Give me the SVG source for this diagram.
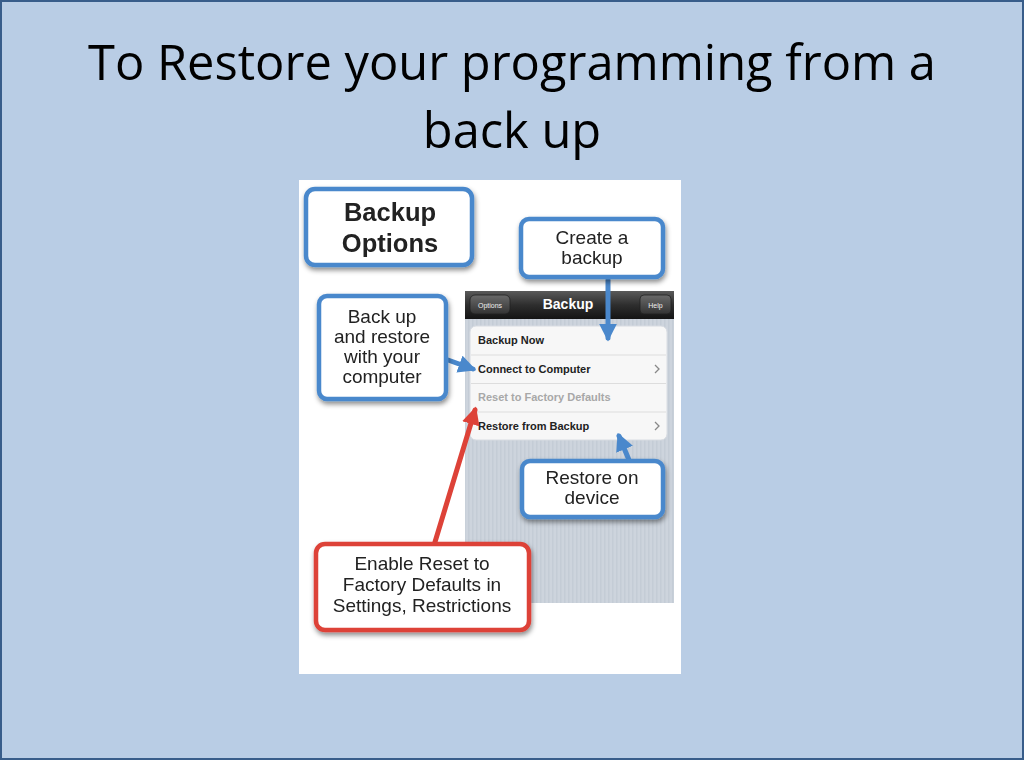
<svg xmlns="http://www.w3.org/2000/svg" width="1024" height="768" viewBox="0 0 1024 768">
<defs>
<style>
.title{font-family:"Open Sans","Liberation Sans",sans-serif;font-size:48.8px;fill:#000;text-anchor:middle}
.co{font-family:"Liberation Sans",Arial,sans-serif;font-size:19px;fill:#222;text-anchor:middle}
.cob{font-family:"Liberation Sans",Arial,sans-serif;font-size:25.5px;font-weight:bold;fill:#222;text-anchor:middle}
.row{font-family:"Liberation Sans",Arial,sans-serif;font-size:11px;font-weight:bold;fill:#222}
.blue{fill:#fff;stroke:#4a88cc;stroke-width:4.5}
.red{fill:#fff;stroke:#dd4238;stroke-width:4.5}
.chev{fill:none;stroke:#888;stroke-width:1.3}
</style>
<filter id="sh" x="-20%" y="-20%" width="140%" height="150%">
<feDropShadow dx="1" dy="3" stdDeviation="2.5" flood-color="#000" flood-opacity="0.45"/>
</filter>
<pattern id="stripe" width="4" height="4" patternUnits="userSpaceOnUse">
<rect width="4" height="4" fill="#cdd4dd"/>
<rect width="1.5" height="4" fill="#c4ccd6"/>
</pattern>
<linearGradient id="nav" x1="0" y1="0" x2="0" y2="1">
<stop offset="0" stop-color="#5a5a5a"/>
<stop offset="0.5" stop-color="#2e2e2e"/>
<stop offset="1" stop-color="#141414"/>
</linearGradient>
<linearGradient id="btn" x1="0" y1="0" x2="0" y2="1">
<stop offset="0" stop-color="#6a6a6a"/>
<stop offset="1" stop-color="#333"/>
</linearGradient>
<marker id="ab" viewBox="0 0 10 10" refX="8" refY="5" markerWidth="3.6" markerHeight="3.6" orient="auto">
<path d="M0,0 L10,5 L0,10 z" fill="#4a88cc"/>
</marker>
<marker id="ar" viewBox="0 0 10 10" refX="8" refY="5" markerWidth="3.6" markerHeight="3.6" orient="auto">
<path d="M0,0 L10,5 L0,10 z" fill="#dd4238"/>
</marker>
</defs>

<rect x="1" y="1" width="1022" height="758" fill="#b9cde5" stroke="#385d8a" stroke-width="2"/>
<rect x="0" y="760" width="1024" height="8" fill="#fff"/>

<g id="title">
<text class="title" x="512" y="80">To Restore your programming from a</text>
<text class="title" x="512" y="148">back up</text>
</g>

<g id="screenshot">
<rect x="299" y="180" width="382" height="494" fill="#fff"/>
<rect x="465" y="318" width="209" height="285" fill="url(#stripe)"/>
<rect x="465" y="291" width="209" height="28" fill="url(#nav)"/>
<rect x="470" y="295" width="40" height="19" rx="5" fill="url(#btn)" stroke="#222" stroke-width="0.8"/>
<text x="490" y="307.5" font-family="Liberation Sans,Arial,sans-serif" font-size="7" fill="#eee" text-anchor="middle">Options</text>
<text x="568" y="309" font-family="Liberation Sans,Arial,sans-serif" font-size="14" font-weight="bold" fill="#fff" text-anchor="middle">Backup</text>
<rect x="640" y="295" width="31" height="19" rx="4" fill="url(#btn)" stroke="#222" stroke-width="0.8"/>
<text x="655.5" y="307.5" font-family="Liberation Sans,Arial,sans-serif" font-size="7" fill="#eee" text-anchor="middle">Help</text>
<rect x="470" y="326" width="197" height="114" rx="6" fill="#f7f7f7" stroke="#d8dce2" stroke-width="1"/>
<line x1="471" y1="355" x2="666" y2="355" stroke="#ddd" stroke-width="1"/>
<line x1="471" y1="383.5" x2="666" y2="383.5" stroke="#ddd" stroke-width="1"/>
<line x1="471" y1="412" x2="666" y2="412" stroke="#ddd" stroke-width="1"/>
<text class="row" x="478" y="344">Backup Now</text>
<text class="row" x="478" y="373">Connect to Computer</text>
<text class="row" x="478" y="401" style="fill:#a8a8a8">Reset to Factory Defaults</text>
<text class="row" x="478" y="430">Restore from Backup</text>
<path class="chev" d="M655,365 L659,369 L655,373"/>
<path class="chev" d="M655,422 L659,426 L655,430"/>
</g>

<g id="connectors" fill="none" stroke-linecap="round">
<line x1="608" y1="280" x2="608" y2="338" stroke="#4a88cc" stroke-width="5" marker-end="url(#ab)"/>
<line x1="448" y1="360" x2="473" y2="369" stroke="#4a88cc" stroke-width="5" marker-end="url(#ab)"/>
<line x1="629" y1="460" x2="619" y2="436" stroke="#4a88cc" stroke-width="5" marker-end="url(#ab)"/>
<line x1="435" y1="542" x2="475" y2="410" stroke="#dd4238" stroke-width="5" marker-end="url(#ar)"/>
</g>

<g id="backup-options" filter="url(#sh)">
<rect class="blue" x="306" y="189" width="166" height="76" rx="9"/>
<text class="cob" x="390" y="221">Backup</text>
<text class="cob" x="390" y="252">Options</text>
</g>

<g id="create-backup" filter="url(#sh)">
<rect class="blue" x="521" y="219" width="142" height="58" rx="8"/>
<text class="co" x="592" y="244">Create a</text>
<text class="co" x="592" y="264">backup</text>
</g>

<g id="backup-restore-computer" filter="url(#sh)">
<rect class="blue" x="319" y="296" width="127" height="103" rx="8"/>
<text class="co" x="382" y="323">Back up</text>
<text class="co" x="382" y="343">and restore</text>
<text class="co" x="382" y="363">with your</text>
<text class="co" x="382" y="383">computer</text>
</g>

<g id="restore-device" filter="url(#sh)">
<rect class="blue" x="522" y="461" width="141" height="56" rx="8"/>
<text class="co" x="592" y="484">Restore on</text>
<text class="co" x="592" y="504">device</text>
</g>

<g id="enable-reset" filter="url(#sh)">
<rect class="red" x="316" y="544" width="213" height="86" rx="9"/>
<text class="co" x="422" y="570">Enable Reset to</text>
<text class="co" x="422" y="591">Factory Defaults in</text>
<text class="co" x="422" y="612">Settings, Restrictions</text>
</g>
</svg>
